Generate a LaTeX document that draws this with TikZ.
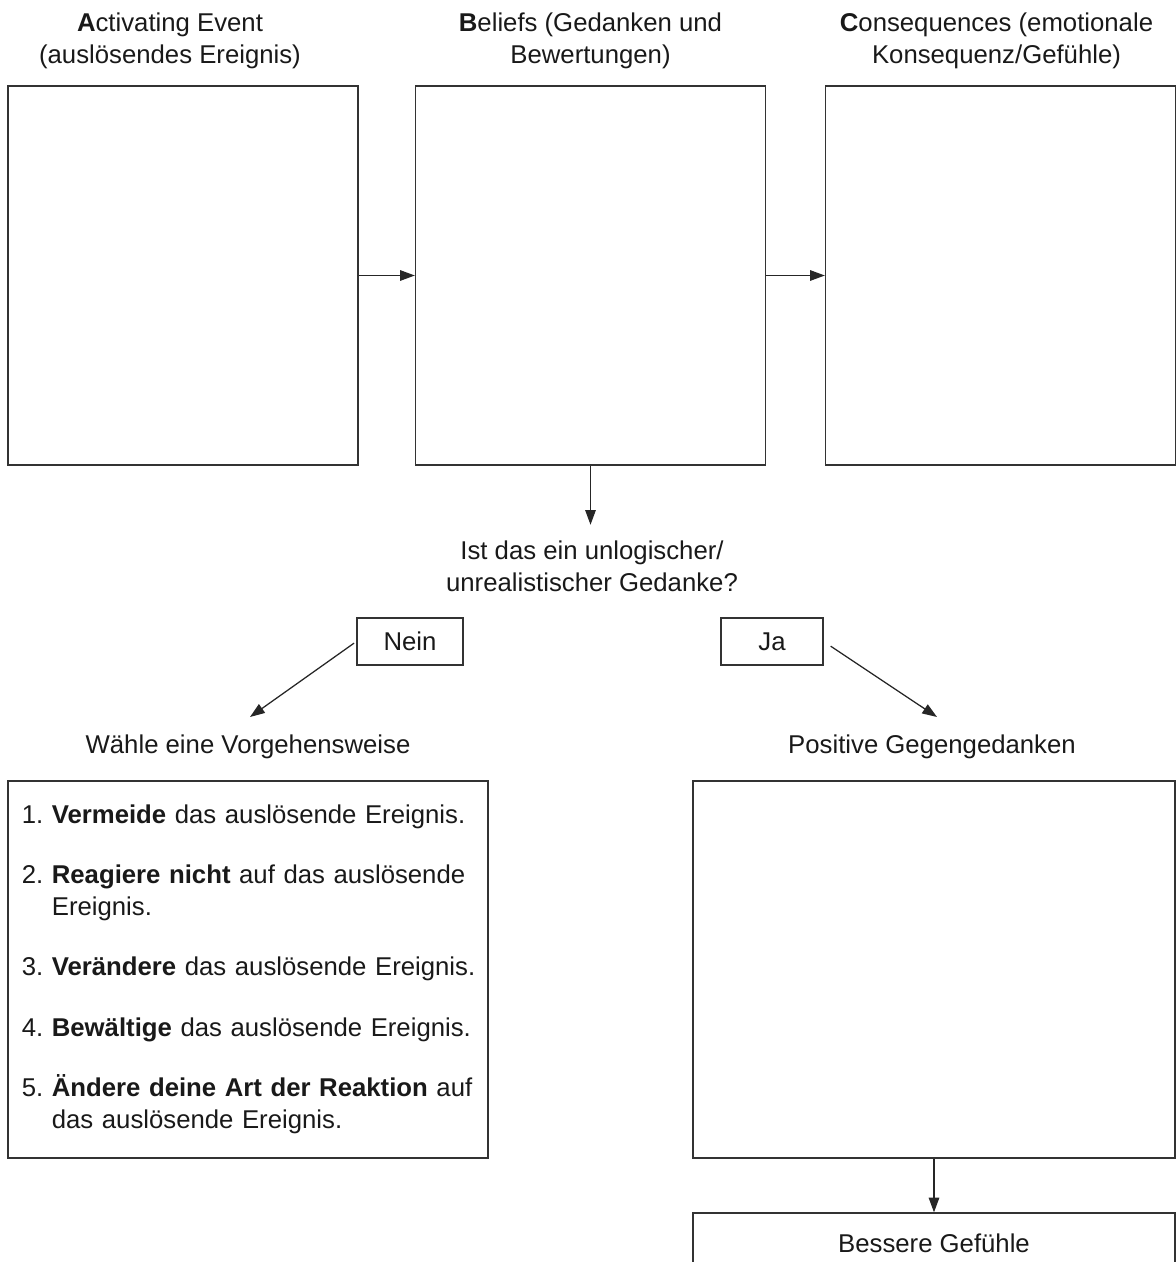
\documentclass[tikz,border=0pt]{standalone}
\usepackage{fontspec}
\setmainfont{Liberation Sans}
\usetikzlibrary{positioning,arrows.meta}

\begin{document}
\begin{tikzpicture}
    [x=0.025cm, y=-0.025cm, font=\fontsize{18.3}{22.8}\selectfont, color=black!90,
    kasten/.style={draw=black!80, line width=0.9pt, minimum width=8.75cm, minimum height=9.475cm, inner sep=0pt},
    knopf/.style={draw=black!80, line width=0.9pt, minimum height=1.175cm, inner sep=0pt},
    titel/.style={align=center, inner sep=0pt},
    pfeil/.style={draw=black!85, line width=0.9pt, -{Triangle[length=10.5pt, width=7.5pt]}}]
    \useasboundingbox (0,0) rectangle (1176,1262);

    % A - B - C
    \node [kasten] (ereignis) at (183,275.5) {};
    \node [kasten] (gedanken) at (590.5,275.5) {};
    \node [kasten] (folgen) at (1000.5,275.5) {};
    \node [titel, above=0.4cm of ereignis, xshift=-0.325cm] (ereignistitel) {\textbf{A}ctivating Event\\(auslösendes Ereignis)};
    \node [titel, above=0.4cm of gedanken] (gedankentitel) {\textbf{B}eliefs (Gedanken und\\Bewertungen)};
    \node [titel, above=0.4cm of folgen, xshift=-0.1cm] (folgentitel) {\textbf{C}onsequences (emotionale\\Konsequenz/Gefühle)};

    % Frage
    \node [titel] (frage) at (592,566) {Ist das ein unlogischer/\\unrealistischer Gedanke?};
    \node [knopf, minimum width=2.65cm] (nein) at (410,641.5) {Nein};
    \node [knopf, minimum width=2.55cm] (ja) at (772,641.5) {Ja};
    \coordinate (neinziel) at (250,717);
    \coordinate (jaziel) at (937,717);

    % Nein
    \node [titel] (waehle) at (248,747) {Wähle eine Vorgehensweise};
    \node [kasten, minimum width=12cm, minimum height=9.425cm, inner xsep=0.35cm, text width=11.3cm, align=left] (liste) at (248,969.5) {%
        \begin{tabular}{@{}l@{\hspace{6pt}}l@{}}
        1. & \textbf{Vermeide} das auslösende Ereignis.\\[20pt]
        2. & \textbf{Reagiere nicht} auf das auslösende\\
           & Ereignis.\\[20pt]
        3. & \textbf{Verändere} das auslösende Ereignis.\\[20pt]
        4. & \textbf{Bewältige} das auslösende Ereignis.\\[20pt]
        5. & \textbf{Ändere deine Art der Reaktion} auf\\
           & das auslösende Ereignis.
        \end{tabular}};

    % Ja
    \node [titel] (positiv) at (932,747) {Positive Gegengedanken};
    \node [kasten, minimum width=12.05cm, minimum height=9.425cm] (gegen) at (934,969.5) {};
    \node [knopf, minimum width=12.05cm, minimum height=1.5cm] (besser) at (934,1243) {Bessere Gefühle};

    \draw [pfeil] (ereignis) -- (gedanken);
    \draw [pfeil] (gedanken) -- (folgen);
    \draw [pfeil, shorten >=11pt] (gedanken.south) -- (gedanken.south |- frage.north);
    \draw [pfeil, shorten <=2pt] (nein.west) -- (neinziel);
    \draw [pfeil, shorten <=6pt] (ja.east) -- (jaziel);
    \draw [pfeil] (gegen) -- (besser);
\end{tikzpicture}
\end{document}
